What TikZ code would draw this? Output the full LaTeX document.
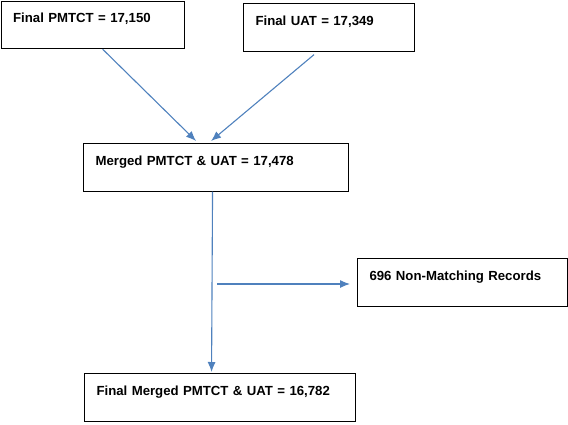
\documentclass[tikz,border=0pt]{standalone}
\usepackage{fontspec}
\setmainfont{Liberation Sans}
\usepackage{xcolor}
\usetikzlibrary{arrows.meta}
\definecolor{arrowblue}{RGB}{79,129,189}
\begin{document}
\begin{tikzpicture}[x=1pt, y=1pt, line width=1.1pt, >={Latex[length=10pt,width=8pt]},
    main/.style = {draw, rectangle, anchor=north west, align=left, inner xsep=12pt, inner ysep=12pt,
                   text height=9.5pt, text depth=14pt, font=\fontsize{13.2}{15}\selectfont\bfseries},
    link/.style = {->, arrowblue, line width=1.1pt}]
    \useasboundingbox (0,0) rectangle (568,-424);
    \node[main, text width=159pt] (1) at (0.6,-0.6)   {Final PMTCT = 17,150};
    \node[main, text width=147pt] (2) at (243,-3)     {Final UAT = 17,349};
    \node[main, text width=241pt] (3) at (83,-143)    {Merged PMTCT \& UAT = 17,478};
    \node[main, text width=186pt] (4) at (357,-258)   {696 Non-Matching Records};
    \node[main, text width=247pt] (5) at (84,-373)    {Final Merged PMTCT \& UAT = 16,782};
    \coordinate (split) at (217,-284);

    \draw[link] ([xshift=10pt]1.south) -- ([xshift=-20pt,yshift=2pt]3.north);
    \draw[link] ([xshift=-15pt,yshift=-3pt]2.south) -- ([xshift=-5pt,yshift=2pt]3.north);

    \draw[link] ([xshift=-3.5pt]3.south) -- ([xshift=-8.5pt,yshift=1pt]5.north);
    \draw[link] (split) -- ([xshift=-7pt]4.west |- split);
\end{tikzpicture}
\end{document}
